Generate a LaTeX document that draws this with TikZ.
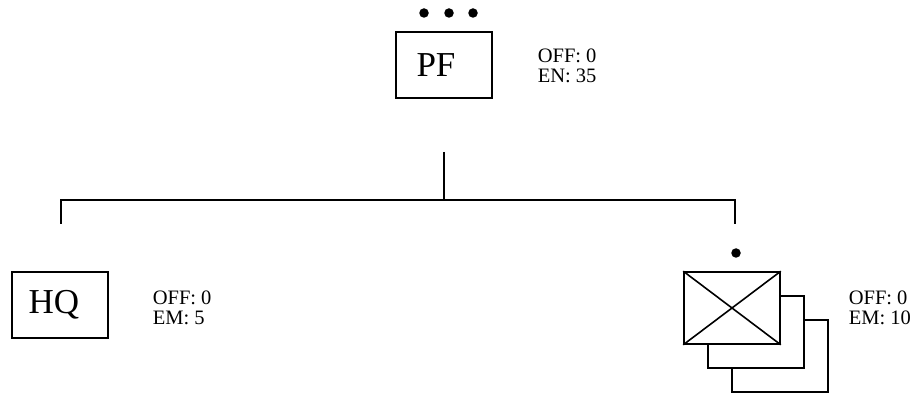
\documentclass[tikz,border=0pt]{standalone}
\usepackage{fontspec}
\setmainfont{Liberation Serif}
\begin{document}
\begin{tikzpicture}[x=1pt,y=-1pt, line width=1.6pt,
  box/.style={draw, fill=white, minimum width=96pt, minimum height=66pt, inner sep=0pt, font=\fontsize{35}{35}\selectfont},
  stackbox/.style={draw, fill=white, minimum width=96pt, minimum height=72pt, inner sep=0pt},
  info/.style={anchor=west, align=left, inner sep=0pt, font=\fontsize{20.5}{19.5}\selectfont},
  blob/.style={fill, circle, minimum size=9.5pt, inner sep=0pt}]
\useasboundingbox (0,0) rectangle (916,395);
% top unit
\node[blob] (d1) at (424,13) {};
\node[blob] (d2) at (449,13) {};
\node[blob] (d3) at (473,13) {};
\node[box] (pf) at (444,65) {\kern-16pt PF};
\node[info] (pfinfo) at (537,66) {OFF: 0\\EN: 35};
% HQ unit
\node[box] (hq) at (60,305) {\kern-12pt HQ};
\node[info] (hqinfo) at (152,308) {OFF: 0\\EM: 5};
% stacked unit
\node[stackbox] (c3) at (780,356) {};
\node[stackbox] (c2) at (756,332) {};
\node[stackbox] (cx) at (732,308) {};
\draw (cx.north west) -- (cx.south east) (cx.north east) -- (cx.south west);
\node[blob] (d4) at (736,253) {};
\node[info] (cxinfo) at (848,308) {OFF: 0\\EM: 10};
% connectors
\coordinate (top) at (444,152);
\coordinate (mid) at (444,200);
\coordinate (ltip) at (61,224);
\coordinate (rtip) at (735,224);
\draw (top) -- (mid);
\draw (ltip) |- (mid) -| (rtip);
\end{tikzpicture}
\end{document}
